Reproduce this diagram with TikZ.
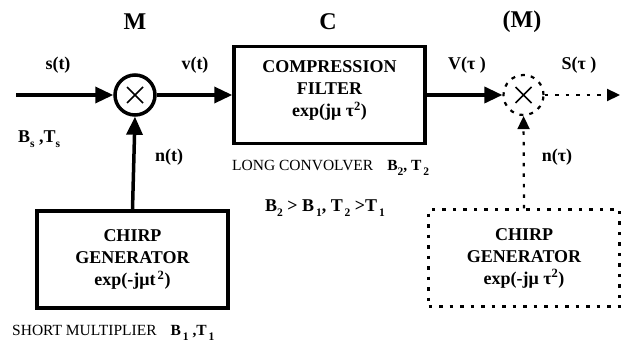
\documentclass[tikz,border=0pt]{standalone}
\usepackage{fontspec}
\setmainfont{Liberation Serif}
\usetikzlibrary{
    positioning,
    arrows.meta
}
\newcommand{\lowsub}[1]{\raisebox{-0.3em}{\fontsize{11.5}{12}\selectfont #1}}

\begin{document}
\begin{tikzpicture}[
    x=1pt, y=-1pt,
    font=\fontsize{18}{22}\selectfont\bfseries,
    block/.style={
        rectangle, draw=black, line width=3.5pt,
        minimum width=191pt, minimum height=97pt,
        align=center, inner sep=0pt
    },
    dblock/.style={
        block, line width=2.2pt, dash pattern=on 3.5pt off 7pt
    },
    mixer/.style={
        circle, draw=black, line width=3.5pt, minimum size=40pt, inner sep=0pt,
        path picture={
            \draw[solid, line width=1.6pt]
                ([shift={(-8pt,-8pt)}]path picture bounding box.center) --
                ([shift={(8pt,8pt)}]path picture bounding box.center)
                ([shift={(-8pt,8pt)}]path picture bounding box.center) --
                ([shift={(8pt,-8pt)}]path picture bounding box.center);
        }
    },
    dmixer/.style={
        mixer, line width=2.2pt, dash pattern=on 4pt off 6pt
    },
    title/.style={font=\fontsize{24}{27}\selectfont\bfseries},
    sig/.style={inner sep=0pt},
    note/.style={anchor=west, inner sep=0pt, font=\fontsize{15.5}{18}\selectfont\mdseries},
    arr/.style={-{Triangle[length=18pt,width=16pt]}, line width=3.5pt},
    darr/.style={-{Triangle[length=13pt,width=12pt]}, line width=2.2pt, dash pattern=on 3.5pt off 7pt}
]
\useasboundingbox (0,0) rectangle (626,342);

% Titles
\node[title] (t_mult) at (135,22) {M};
\node[title] (t_comp) at (328,22) {C};
\node[title] (t_dmult) at (522,22) {(M)};

% Main chain
\coordinate (s_in) at (16,95);
\node[mixer] (mult) at (135,95) {};
\node[block, text depth=13pt] (comp) at (329.5,95)
    {COMPRESSION\\FILTER\\exp(jμ τ\textsuperscript{2})};
\node[block] (chirp) at (132.5,259.5)
    {CHIRP\\GENERATOR\\exp(-jμt\textsuperscript{\,2})};

% Decompression side (dotted)
\node[dmixer] (dmult) at (523.5,95) {};
\node[dblock] (dchirp) at (524,258)
    {CHIRP\\GENERATOR\\exp(-jμ τ\textsuperscript{2})};
\coordinate (s_out) at (620,95);

% Signal labels
\node[sig] (l_s) at (58,65) {s(t)};
\node[sig] (l_v) at (195,65) {v(t)};
\node[sig] (l_bs) at (39,139) {B\lowsub{s} ,T\lowsub{s}};
\node[sig] (l_n) at (169,157) {n(t)};
\node[sig] (l_vt) at (467,65) {V(τ )};
\node[sig] (l_st) at (579,65) {S(τ )};
\node[sig] (l_nt) at (557,157) {n(τ)};

% Notes
\node[note] (n_long) at (232,168)
    {LONG CONVOLVER\hspace{14pt}\textbf{B\lowsub{2}, T\lowsub{\,2}}};
\node[sig] (n_rel) at (325,208)
    {B\lowsub{2} > B\lowsub{\,1}, T\lowsub{\,2} >T\lowsub{\,1}};
\node[note] (n_short) at (12,333)
    {SHORT MULTIPLIER\hspace{14pt}\textbf{B\lowsub{\,1} ,T\lowsub{\,1}}};

% Arrows
\draw[arr] (s_in) -- (mult);
\draw[arr] (mult) -- (comp);
\draw[arr] (chirp.north) -- (mult.south);
\draw[arr] (comp) -- (dmult);
\draw[darr] (dmult) -- (s_out);
\draw[darr] (dchirp.north) -- (dmult.south);

\end{tikzpicture}
\end{document}
